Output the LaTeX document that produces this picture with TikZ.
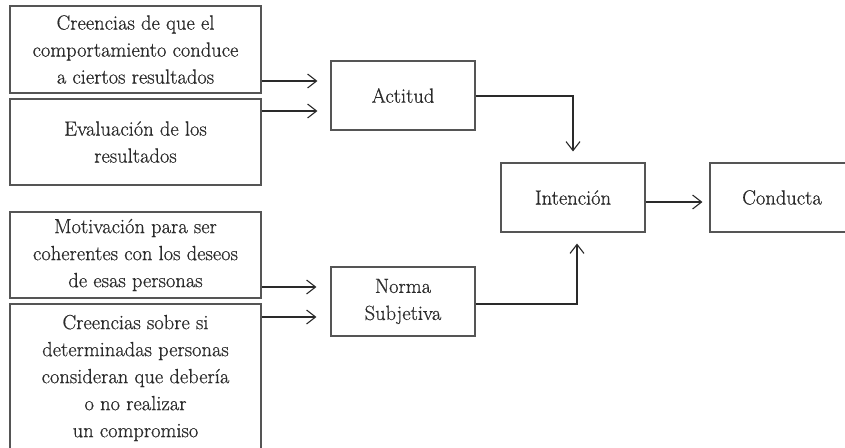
\documentclass[tikz,border=0pt]{standalone}
\usepackage{fontspec}
\setmainfont{Latin Modern Roman}[FakeBold=0.6]
\usetikzlibrary{arrows.meta,calc}
\definecolor{txt}{HTML}{2b2b2b}
\definecolor{bord}{HTML}{555555}
\definecolor{arc}{HTML}{2a2a2a}
\begin{document}
\begin{tikzpicture}[x=1pt,y=-1pt,
  box/.style={draw=bord,line width=1.1pt,text=txt,align=center,inner sep=0pt,
    font=\fontsize{20.5}{27}\selectfont},
  arr/.style={draw=arc,line width=1.1pt,-{Straight Barb[length=9pt,width=14pt]}}]
\useasboundingbox (0,0) rectangle (845,447);
\fill[white] (0,0) rectangle (845,447);
\node[box,minimum width=251pt,minimum height=87pt] (b1) at (135.5,49.5)
  {Creencias de que el\\comportamiento conduce\\a ciertos resultados};
\node[box,minimum width=251pt,minimum height=86pt] (b2) at (135.5,142)
  {Evaluación de los\\resultados};
\node[box,minimum width=251pt,minimum height=86pt] (b3) at (135.5,255)
  {Motivación para ser\\coherentes con los deseos\\de esas personas};
\node[box,minimum width=251pt,minimum height=148pt] (b4) at (135.5,378)
  {Creencias sobre si\\determinadas personas\\consideran que debería\\o no realizar\\un compromiso};
\node[box,minimum width=144pt,minimum height=69pt] (act) at (403,95.5) {Actitud};
\node[box,minimum width=144pt,minimum height=69pt] (norma) at (403,301.5) {Norma\\Subjetiva};
\node[box,minimum width=144pt,minimum height=69pt] (int) at (573,197.5) {Intención};
\node[box,minimum width=144pt,minimum height=69pt] (con) at (782,197.5) {Conducta};
\draw[arr,shorten >=13pt] (b1.east |- 0,81) -- (act.west |- 0,81);
\draw[arr,shorten >=13pt] (b2.east |- 0,111) -- (act.west |- 0,111);
\draw[arr,shorten >=14pt] (b3.east |- 0,287) -- (norma.west |- 0,287);
\draw[arr,shorten >=14pt] (b4.east |- 0,317) -- (norma.west |- 0,317);
\draw[arr,shorten >=11pt] (act.east |- 0,96) -| (int.north);
\draw[arr,shorten >=11pt] (norma.east |- 0,304) -| ([xshift=4pt]int.south);
\draw[arr,shorten >=7pt] (int.east |- 0,202) -- (con.west |- 0,202);
\end{tikzpicture}
\end{document}
